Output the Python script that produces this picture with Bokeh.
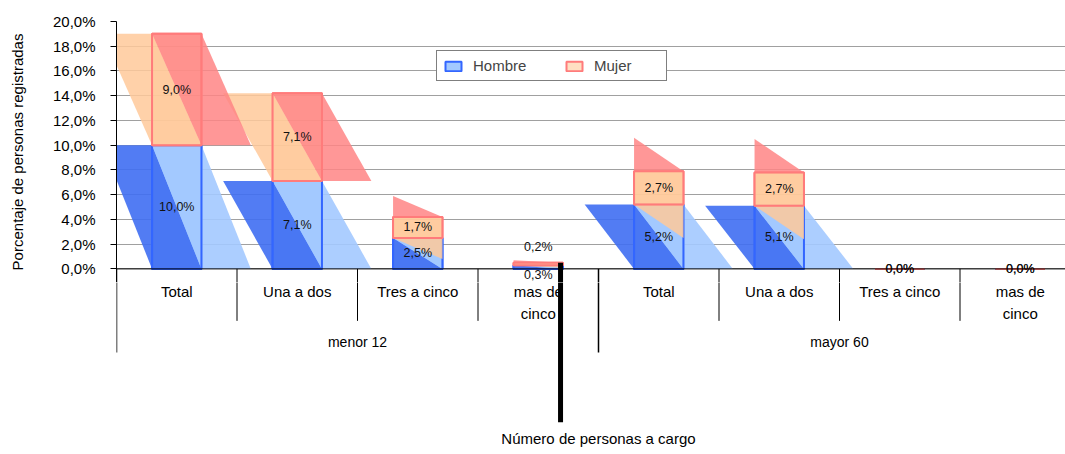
from bokeh.plotting import figure
from bokeh.layouts import column
from bokeh.models import (Range1d, FixedTicker, CustomJSTickFormatter, Legend,
                          LegendItem, Span)
from bokeh.embed import file_html
from bokeh.resources import INLINE
from bokeh.core.properties import value

# ---------------- data ----------------
groups = ["menor 12", "mayor 60"]
subcats = ["Total", "Una a dos", "Tres a cinco", "mas de cinco"]
sub_labels = ["Total", "Una a dos", "Tres a cinco", "mas de\ncinco"]
hombre = [10.0, 7.1, 2.5, 0.3, 5.2, 5.1, 0.0, 0.0]
mujer = [9.0, 7.1, 1.7, 0.2, 2.7, 2.7, 0.0, 0.0]
y_ticks = [0, 2, 4, 6, 8, 10, 12, 14, 16, 18, 20]
series_names = ["Hombre", "Mujer"]
x_title = "Número de personas a cargo"
y_title = "Porcentaje de personas registradas"

# ---------------- style / layout ----------------
FONT = "Liberation Sans"
W_FIG = 1065
LEFT = 116
CAT_PX = 120.5
TOP_BORDER = 21
Y_MIN, Y_MAX = -1.1, 20
PX_PER_Y = 12.37
P1_H = int(round(TOP_BORDER + (Y_MAX - Y_MIN) * PX_PER_Y))
PX_PER_Y = (P1_H - TOP_BORDER) / (Y_MAX - Y_MIN)
P2_H = 450 - P1_H
BAR_W = 0.41

BLUE_DARK = "#3f6ef2"
BLUE_LIGHT = "#a3c9ff"
BLUE_EDGE = "#3366ff"
ORANGE = "#ffc99a"
RED = "#ff8585"
RED_EDGE = "#ff7b7b"
GRID = "#a0a0a0"

n = len(groups) * len(subcats)
xc = [i + 0.5 for i in range(n)]
x_end = (W_FIG - LEFT) / CAT_PX
xr = Range1d(0, x_end)

p1 = figure(width=W_FIG, height=P1_H, x_range=xr, y_range=Range1d(Y_MIN, Y_MAX),
            output_backend="svg", toolbar_location=None, x_axis_location=None,
            min_border_left=LEFT, min_border_right=0, min_border_top=TOP_BORDER,
            min_border_bottom=0, outline_line_color=None, background_fill_color="white")
p1.xgrid.visible = False
p1.ygrid.ticker = FixedTicker(ticks=y_ticks)
p1.ygrid.grid_line_color = GRID
p1.yaxis.ticker = FixedTicker(ticks=y_ticks)
p1.yaxis.formatter = CustomJSTickFormatter(code="return tick.toFixed(1).replace('.', ',') + '%';")
p1.yaxis.major_tick_out = 6
p1.yaxis.major_tick_in = 0
p1.yaxis.minor_tick_line_color = None
p1.yaxis.axis_line_color = "black"
p1.yaxis.major_tick_line_color = "black"
p1.yaxis.major_label_standoff = 15
p1.yaxis.major_label_text_font = FONT
p1.yaxis.major_label_text_font_size = "15px"
p1.yaxis.major_label_text_color = "black"
p1.yaxis.axis_label = y_title
p1.yaxis.axis_label_text_font = FONT
p1.yaxis.axis_label_text_font_size = "15px"
p1.yaxis.axis_label_text_font_style = "normal"
p1.yaxis.axis_label_text_color = "black"
p1.yaxis.axis_label_standoff = 24

# ---------------- shapes ----------------
hd_x, hd_y, hl_x, hl_y = [], [], [], []
mo_x, mo_y, mr_x, mr_y = [], [], [], []
L = [c - BAR_W / 2 for c in xc]
R = [c + BAR_W / 2 for c in xc]
tops = [hombre[i] + mujer[i] for i in range(n)]
for i in range(n):
    h, m = hombre[i], mujer[i]
    s = BAR_W if h >= 5 else 0.0
    hd_x.append([L[i] - s, L[i], R[i], L[i]]); hd_y.append([h, h, 0, 0])
    hl_x.append([L[i], R[i], R[i] + s, R[i]]); hl_y.append([h, h, 0, 0])
    b, t = h, h + m
    if m >= 5:
        mo_x.append([L[i] - BAR_W, L[i], R[i], L[i]]); mo_y.append([t, t, b, b])
        mr_x.append([L[i], R[i], R[i] + BAR_W, R[i]]); mr_y.append([t, t, b, b])
    else:
        mr_x.append([L[i], L[i], R[i]]); mr_y.append([t, t + m, t])
        mo_x.append([L[i], L[i], R[i], R[i]]); mo_y.append([b, t, t, max(0, b - m)])

# bar faces (also used as legend swatches)
rh = p1.quad(left=L, right=R, bottom=[0] * n, top=hombre, fill_color=BLUE_LIGHT,
             line_color=BLUE_EDGE, line_width=2)
p1.patches(hd_x, hd_y, fill_color=BLUE_DARK, fill_alpha=0.9, line_color=None)
p1.patches(hl_x, hl_y, fill_color=BLUE_LIGHT, fill_alpha=0.9, line_color=None)
p1.quad(left=L, right=R, bottom=[0] * n, top=hombre, fill_color=None,
        line_color=BLUE_EDGE, line_width=2)
rm = p1.quad(left=L, right=R, bottom=hombre, top=tops, fill_color=ORANGE,
             fill_alpha=0.6, line_color=RED_EDGE, line_width=2)
p1.patches(mo_x, mo_y, fill_color=ORANGE, fill_alpha=0.85, line_color=None)
p1.patches(mr_x, mr_y, fill_color=RED, fill_alpha=0.85, line_color=None)
p1.quad(left=L, right=R, bottom=hombre, top=tops, fill_color=None,
        line_color=RED_EDGE, line_width=2)

p1.add_layout(Span(location=0, dimension="width", line_color="black", line_width=1))

# ---------------- data labels ----------------
def fmt(v):
    return f"{v:.1f}".replace(".", ",") + "%"

lx, ly, lt = [], [], []
for i in range(n):
    h, m = hombre[i], mujer[i]
    lx.append(xc[i]); lt.append(fmt(h))
    ly.append(-0.5 if 0 < h < 1 else h / 2)
    lx.append(xc[i]); lt.append(fmt(m))
    ly.append(h + m + 1.3 if 0 < m < 1 else h + m / 2)
p1.text(lx, ly, text=lt, text_align="center", text_baseline="middle",
        text_font=value(FONT), text_font_size="12.5px", text_color="#111111")

# ---------------- legend ----------------
legend = Legend(items=[LegendItem(label=series_names[0], renderers=[rh]),
                       LegendItem(label=series_names[1], renderers=[rm])],
                orientation="horizontal", location=(320, 201),
                padding=6, margin=0, spacing=25, glyph_width=20, glyph_height=12,
                label_standoff=10, label_width=66,
                label_text_font=FONT, label_text_font_size="15px",
                border_line_color="black", border_line_width=1,
                background_fill_color="white", background_fill_alpha=1)
p1.add_layout(legend)

# ---------------- lower band (category axis) ----------------
p2 = figure(width=W_FIG, height=P2_H, x_range=xr,
            y_range=Range1d(Y_MIN - P2_H / PX_PER_Y, Y_MIN),
            output_backend="svg", toolbar_location=None,
            x_axis_location=None, y_axis_location=None,
            min_border_left=LEFT, min_border_right=0, min_border_top=0,
            min_border_bottom=0, outline_line_color=None)
p2.xgrid.visible = False
p2.ygrid.visible = False

ns = len(subcats)
sub_b = [i for i in range(1, n) if i % ns != 0]
grp_b = [i for i in range(0, n + 1) if i % ns == 0]
SUB_DEPTH = -4.2
GRP_DEPTH = -6.75
for fig in (p1, p2):
    fig.segment(x0=sub_b, x1=sub_b, y0=[0] * len(sub_b), y1=[SUB_DEPTH] * len(sub_b),
                line_color="black", line_width=1)
    fig.segment(x0=grp_b, x1=grp_b, y0=[0] * len(grp_b), y1=[GRP_DEPTH] * len(grp_b),
                line_color="black", line_width=1.5)

p2.text(xc, [-1.15] * n, text=sub_labels * len(groups), text_align="center",
        text_baseline="top", text_font=value(FONT), text_font_size="15px",
        text_color="black", text_line_height=1.3)
gc = [(g * ns + ns / 2) for g in range(len(groups))]
p2.text(gc, [-5.9] * len(groups), text=groups, text_align="center",
        text_baseline="middle", text_font=value(FONT), text_font_size="14px",
        text_color="black")
p2.text([n / 2], [-13.7], text=[x_title], text_align="center",
        text_baseline="middle", text_font=value(FONT), text_font_size="15px",
        text_color="black")

# stray thick marker line at the right edge of the small bar
k = 3
for fig in (p1, p2):
    fig.segment(x0=[R[k] - 0.02], x1=[R[k] - 0.02], y0=[tops[k]], y1=[-12.4],
                line_color="black", line_width=5)

layout = column(p1, p2, spacing=0)
open("out.html", "w").write(file_html(layout, INLINE))
